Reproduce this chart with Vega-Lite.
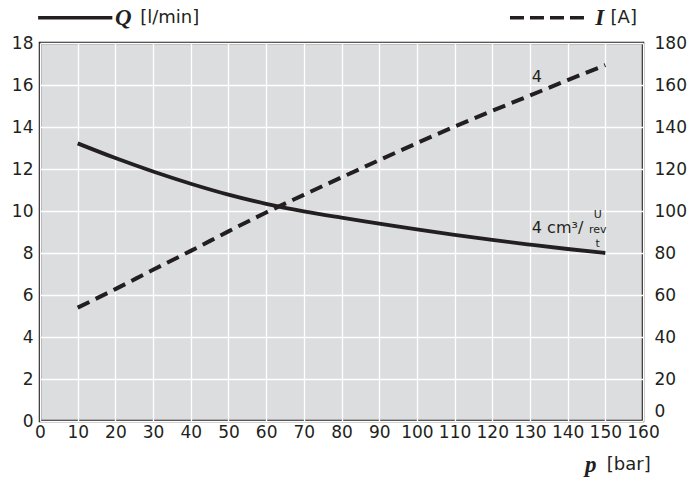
{
  "$schema": "https://vega.github.io/schema/vega-lite/v6.json",
  "width": 603,
  "height": 378,
  "autosize": "none",
  "padding": {"left": 40, "top": 43, "right": 49, "bottom": 60},
  "background": "white",
  "config": {
    "view": {"fill": "#dcdddf", "stroke": "#231f20", "strokeWidth": 2.5},
    "font": "DejaVu Sans",
    "axis": {
      "labelFont": "DejaVu Sans",
      "labelFontSize": 17,
      "labelColor": "#231f20",
      "labelOverlap": false,
      "labelFlush": false,
      "ticks": false,
      "domain": false,
      "gridColor": "white",
      "gridWidth": 1.3,
      "gridOpacity": 1
    }
  },
  "datasets": {
    "curve": [
      {"p": 10, "Q": 13.22, "I": 54.0},
      {"p": 20, "Q": 12.52, "I": 62.8},
      {"p": 30, "Q": 11.88, "I": 72.0},
      {"p": 40, "Q": 11.30, "I": 81.0},
      {"p": 50, "Q": 10.78, "I": 90.3},
      {"p": 60, "Q": 10.34, "I": 99.3},
      {"p": 70, "Q": 9.98, "I": 107.7},
      {"p": 80, "Q": 9.68, "I": 116.0},
      {"p": 90, "Q": 9.40, "I": 124.2},
      {"p": 100, "Q": 9.12, "I": 132.3},
      {"p": 110, "Q": 8.86, "I": 140.2},
      {"p": 120, "Q": 8.62, "I": 147.7},
      {"p": 130, "Q": 8.40, "I": 155.0},
      {"p": 140, "Q": 8.19, "I": 162.3},
      {"p": 150, "Q": 8.00, "I": 169.5}
    ],
    "legendSolid": [{"p": -0.5, "p2": 19.2, "Q": 19.2}],
    "legendDash": [{"p": 124.7, "p2": 144.6, "Q": 19.2}],
    "serif": [
      {"p": 19.9, "Q": 19.2, "t": "Q"},
      {"p": 147.3, "Q": 19.2, "t": "I"},
      {"p": 144.6, "Q": -2.1, "t": "p"}
    ],
    "sans": [
      {"p": 26.6, "Q": 19.2, "t": "[l/min]"},
      {"p": 151.4, "Q": 19.2, "t": "[A]"},
      {"p": 150.4, "Q": -2.1, "t": "[bar]"}
    ],
    "annotCenter": [{"p": 131.8, "Q": 16.4, "t": "4"}],
    "annotLeft": [{"p": 130.5, "Q": 9.19, "t": "4 cm³/"}],
    "annotSmall": [
      {"p": 148, "Q": 9.81, "t": "U"},
      {"p": 148, "Q": 9.1, "t": "rev"},
      {"p": 148, "Q": 8.45, "t": "t"}
    ]
  },
  "encoding": {
    "x": {"field": "p", "type": "quantitative",
          "scale": {"domain": [0, 160], "nice": false},
          "axis": {"values": [0,10,20,30,40,50,60,70,80,90,100,110,120,130,140,150,160], "title": null, "labelPadding": 3, "grid": true, "labelOverlap": false}}
  },
  "layer": [
    {
      "encoding": {
        "y": {"field": "Q", "type": "quantitative",
              "scale": {"domain": [0, 18], "nice": false},
              "axis": {"orient": "left", "values": [0,2,4,6,8,10,12,14,16,18], "title": null, "labelPadding": 7, "grid": true}}
      },
      "layer": [
        {
          "data": {"name": "curve"},
          "mark": {"type": "line", "color": "#231f20", "strokeWidth": 3.8, "interpolate": "monotone"}
        },
        {
          "data": {"name": "legendSolid"},
          "mark": {"type": "rule", "color": "#231f20", "strokeWidth": 3.5},
          "encoding": {"x2": {"field": "p2"}}
        },
        {
          "data": {"name": "legendDash"},
          "mark": {"type": "rule", "color": "#231f20", "strokeWidth": 3.5, "strokeDash": [14, 6]},
          "encoding": {"x2": {"field": "p2"}}
        },
        {
          "data": {"name": "serif"},
          "mark": {"type": "text", "font": "Liberation Serif", "fontStyle": "italic", "fontWeight": "bold", "fontSize": 23, "align": "left", "baseline": "middle", "color": "#231f20"},
          "encoding": {"text": {"field": "t"}}
        },
        {
          "data": {"name": "sans"},
          "mark": {"type": "text", "font": "DejaVu Sans", "fontSize": 18, "align": "left", "baseline": "middle", "color": "#231f20"},
          "encoding": {"text": {"field": "t"}}
        },
        {
          "data": {"name": "annotCenter"},
          "mark": {"type": "text", "font": "DejaVu Sans", "fontSize": 16, "align": "center", "baseline": "middle", "color": "#231f20"},
          "encoding": {"text": {"field": "t"}}
        },
        {
          "data": {"name": "annotLeft"},
          "mark": {"type": "text", "font": "DejaVu Sans", "fontSize": 16, "align": "left", "baseline": "middle", "color": "#231f20"},
          "encoding": {"text": {"field": "t"}}
        },
        {
          "data": {"name": "annotSmall"},
          "mark": {"type": "text", "font": "DejaVu Sans", "fontSize": 11, "align": "center", "baseline": "middle", "color": "#231f20"},
          "encoding": {"text": {"field": "t"}}
        }
      ]
    },
    {
      "data": {"name": "curve"},
      "mark": {"type": "line", "color": "#231f20", "strokeWidth": 4, "strokeDash": [13, 7], "interpolate": "monotone"},
      "encoding": {
        "y": {"field": "I", "type": "quantitative",
              "scale": {"domain": [0, 180], "nice": false},
              "axis": {"orient": "right", "values": [0,20,40,60,80,100,120,140,160,180], "title": null, "labelPadding": 11, "grid": false,
                       "labelOffset": {"condition": {"test": "datum.value === 0", "value": -10}, "value": 0}}}
      }
    }
  ],
  "resolve": {"scale": {"y": "independent"}}
}
